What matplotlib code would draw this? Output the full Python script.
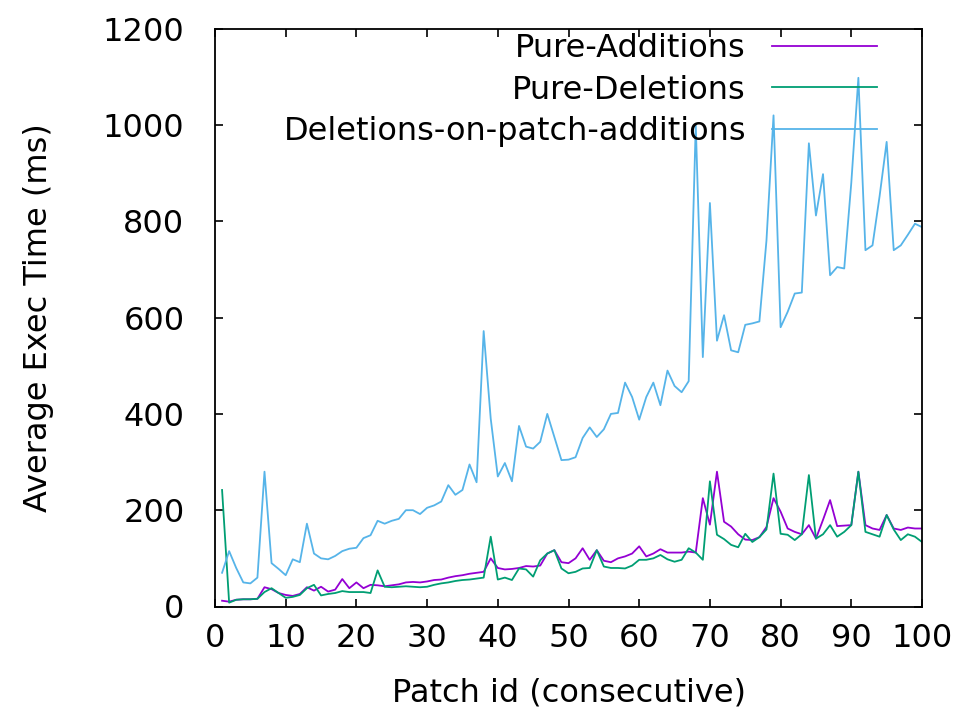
import matplotlib
matplotlib.use("Agg")
import matplotlib.pyplot as plt
import numpy as np

patch_ids = list(range(1, 101))

pure_additions = [
    12, 10, 14, 15, 15, 16, 40, 36, 28, 24,
    22, 26, 40, 33, 41, 31, 35, 57, 38, 50,
    38, 45, 44, 42, 44, 46, 50, 51, 50, 52,
    55, 56, 60, 63, 65, 68, 70, 72, 100, 80,
    77, 78, 80, 84, 83, 85, 110, 117, 92, 90,
    100, 121, 97, 117, 95, 92, 100, 104, 110, 125,
    104, 110, 119, 112, 112, 112, 114, 112, 225, 170,
    280, 176, 166, 150, 139, 138, 144, 165, 225, 197,
    162, 155, 150, 169, 141, 180, 221, 167, 168, 169,
    280, 169, 162, 159, 190, 162, 159, 164, 162, 162,
]

pure_deletions = [
    242, 8, 14, 15, 15, 16, 30, 38, 28, 18,
    20, 24, 38, 45, 23, 26, 28, 32, 30, 30,
    30, 28, 75, 41, 40, 41, 42, 41, 40, 41,
    45, 48, 50, 53, 55, 56, 58, 60, 145, 56,
    60, 55, 79, 77, 62, 96, 110, 117, 79, 69,
    72, 79, 80, 117, 83, 80, 80, 79, 85, 97,
    97, 100, 107, 98, 93, 97, 121, 112, 97, 260,
    149, 140, 128, 123, 151, 134, 144, 160, 276, 151,
    149, 138, 150, 273, 141, 150, 169, 145, 155, 169,
    280, 155, 150, 145, 190, 160, 138, 150, 145, 134,
]

deletions_on_patch_additions = [
    70, 115, 80, 50, 48, 60, 280, 90, 78, 65,
    98, 92, 172, 110, 100, 98, 105, 115, 120, 122,
    142, 148, 178, 172, 178, 182, 200, 200, 192, 205,
    210, 218, 252, 232, 242, 295, 258, 572, 390, 270,
    298, 260, 375, 332, 328, 342, 400, 352, 304, 305,
    310, 350, 372, 352, 368, 400, 402, 465, 435, 388,
    435, 465, 418, 490, 458, 445, 468, 1000, 518, 838,
    552, 605, 532, 528, 585, 588, 592, 760, 1020, 580,
    612, 650, 652, 962, 812, 898, 688, 705, 702, 880,
    1098, 740, 750, 852, 965, 740, 750, 772, 795, 788,
]

series_labels = ["Pure-Additions", "Pure-Deletions", "Deletions-on-patch-additions"]
series_colors = ["#9400D3", "#009E73", "#56B4E9"]

x_ticks = list(range(0, 101, 10))
y_ticks = list(range(0, 1201, 200))

FS = 23

fig = plt.figure(figsize=(9.61, 7.14), dpi=100)
ax = fig.add_axes([215 / 961, 1 - 606.5 / 714, (922 - 215) / 961, (606.5 - 28.7) / 714])

for vals, lab, col in zip([pure_additions, pure_deletions, deletions_on_patch_additions],
                          series_labels, series_colors):
    ax.plot(patch_ids, vals, color=col, lw=1.3, label=lab)

ax.set_xlim(0, 100)
ax.set_ylim(0, 1200)
ax.set_xticks(x_ticks)
ax.set_yticks(y_ticks)
ax.tick_params(direction="in", length=6, width=1.2, top=True, right=True,
               labelsize=FS, colors="black")
ax.tick_params(axis="y", pad=22)
ax.tick_params(axis="x", pad=12)
for s in ax.spines.values():
    s.set_linewidth(1.3)

ax.set_xlabel("Patch id (consecutive)", fontsize=FS, labelpad=17)
ax.set_ylabel("Average Exec Time (ms)", fontsize=FS, labelpad=35)

leg = ax.legend(loc="upper right", bbox_to_anchor=(877 / 961, 1 - 33 / 714),
                bbox_transform=fig.transFigure, frameon=False, markerfirst=False,
                fontsize=FS, handlelength=3.3, handletextpad=0.8, labelspacing=0.33,
                borderpad=0, borderaxespad=0)

fig.savefig("out.png", dpi=100)
